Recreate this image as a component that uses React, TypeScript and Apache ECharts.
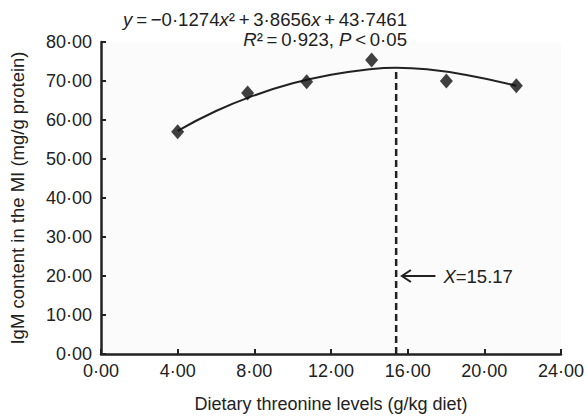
import React, { useEffect, useRef } from "react";
import * as echarts from "echarts";

const pointX = [4.0, 7.65, 10.73, 14.12, 18.02, 21.67];
const pointY = [57.0, 66.9, 69.8, 75.4, 70.0, 68.8];

const curveX = [4, 6, 8, 10, 12, 14, 15.4, 17, 19, 21.67];
const curveY = [57.2, 62.3, 66.3, 69.4, 71.6, 73.0, 73.4, 73.0, 71.6, 68.8];

const optimumX = 15.4;
const optimumY = 73.4;
const optimumLabel = "15.17";
const arrowY = 20;

const xTicks = { min: 0, max: 24, interval: 4 };
const yTicks = { min: 0, max: 80, interval: 10 };

const fmt = (v: number) => v.toFixed(2).replace(".", "\u00b7");

export default function App() {
  const ref = useRef<HTMLDivElement>(null);
  useEffect(() => {
    if (!ref.current) return;
    const chart = echarts.init(ref.current, undefined, { renderer: "svg" });
    const font = "Liberation Sans, Arial, sans-serif";
    const axisColor = "#222";
    const textColor = "#222";
    const fs = 18;
    const eq = 18.6;
    const lh = 18.6;
    const ts = "\u2009";
    const rich = {
      i: { fontStyle: "italic", fontSize: eq, fontFamily: font, lineHeight: lh },
    };
    chart.setOption({
      animation: false,
      backgroundColor: "#fff",
      textStyle: { fontFamily: font },
      grid: {
        left: 98,
        right: 21,
        top: 42,
        bottom: 63,
        show: true,
        backgroundColor: "#fbfbfb",
        borderWidth: 0,
      },
      xAxis: {
        type: "value",
        min: xTicks.min,
        max: xTicks.max,
        interval: xTicks.interval,
        name: "Dietary threonine levels (g/kg diet)",
        nameLocation: "middle",
        nameGap: 41,
        nameTextStyle: { fontSize: fs, color: textColor, fontFamily: font },
        axisLine: { lineStyle: { color: axisColor, width: 2.5 } },
        axisTick: { inside: true, length: 5, lineStyle: { color: axisColor, width: 2 } },
        axisLabel: { formatter: fmt, fontSize: fs, color: textColor, margin: 8, fontFamily: font },
        splitLine: { show: false },
      },
      yAxis: {
        type: "value",
        min: yTicks.min,
        max: yTicks.max,
        interval: yTicks.interval,
        name: "IgM content in the MI (mg/g protein)",
        nameLocation: "middle",
        nameGap: 74,
        nameTextStyle: { fontSize: 18.5, color: textColor, fontFamily: font },
        axisLine: { show: true, lineStyle: { color: axisColor, width: 2.5 } },
        axisTick: { show: true, inside: true, length: 5, lineStyle: { color: axisColor, width: 2 } },
        axisLabel: { formatter: fmt, fontSize: fs, color: textColor, margin: 9, fontFamily: font },
        splitLine: { show: false },
      },
      series: [
        {
          type: "line",
          data: curveX.map((x, i) => [x, curveY[i]]),
          smooth: true,
          symbol: "none",
          lineStyle: { color: axisColor, width: 2 },
          z: 2,
        },
        {
          type: "line",
          data: [
            [optimumX, 0],
            [optimumX, optimumY],
          ],
          symbol: "none",
          lineStyle: { color: axisColor, width: 2.5, type: [7, 4] },
          z: 2,
        },
        {
          type: "line",
          data: [
            [optimumX + 0.3, arrowY],
            [optimumX + 2.05, arrowY],
          ],
          symbol: "none",
          lineStyle: { color: axisColor, width: 2 },
          z: 2,
        },
        {
          type: "scatter",
          data: pointX.map((x, i) => [x, pointY[i]]),
          symbol: "diamond",
          symbolSize: [13, 15],
          itemStyle: { color: "#111" },
          z: 3,
        },
      ],
    });
    const tip = chart.convertToPixel({ gridIndex: 0 }, [optimumX + 0.3, arrowY]) as number[];
    const tail = chart.convertToPixel({ gridIndex: 0 }, [optimumX + 2.05, arrowY]) as number[];
    chart.setOption({
      graphic: [
        {
          type: "text",
          right: 180,
          top: 10,
          style: {
            text:
              "{i|y}" + ts + "=" + ts + "\u22120\u00b71274{i|x}\u00b2" + ts + "+" + ts +
              "3\u00b78656{i|x}" + ts + "+" + ts + "43\u00b77461",
            fontSize: eq,
            lineHeight: lh,
            fill: textColor,
            fontFamily: font,
            rich,
          },
        },
        {
          type: "text",
          right: 180,
          top: 30,
          style: {
            text: "{i|R}\u00b2" + ts + "=" + ts + "0\u00b7923, {i|P}" + ts + "<" + ts + "0\u00b705",
            fontSize: eq,
            lineHeight: lh,
            fill: textColor,
            fontFamily: font,
            rich,
          },
        },
        {
          type: "polyline",
          shape: {
            points: [
              [tip[0] + 9, tip[1] - 6],
              [tip[0], tip[1]],
              [tip[0] + 9, tip[1] + 6],
            ],
          },
          style: { stroke: axisColor, lineWidth: 2, fill: "none" },
          z: 10,
        },
        {
          type: "text",
          x: tail[0] + 8,
          y: tail[1],
          style: {
            text: "{i|X}=" + optimumLabel,
            fontSize: 18.5,
            fill: textColor,
            fontFamily: font,
            verticalAlign: "middle",
            rich: { i: { fontStyle: "italic", fontSize: 18.5, fontFamily: font } },
          },
        },
      ],
    });
    return () => chart.dispose();
  }, []);
  return <div ref={ref} style={{ width: 587, height: 418, position: "absolute", left: 0, top: 0 }} />;
}
